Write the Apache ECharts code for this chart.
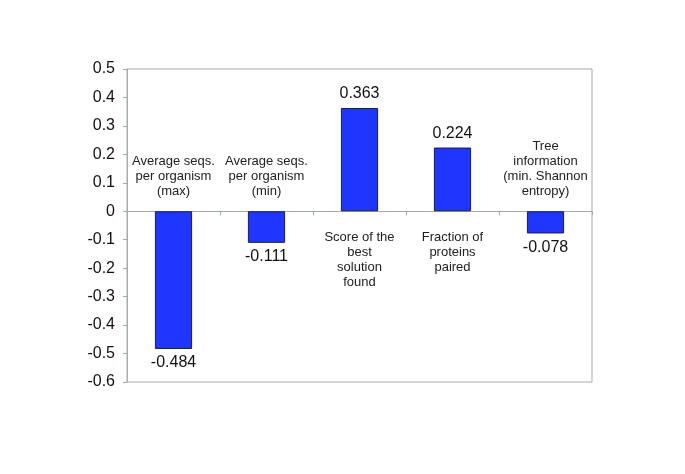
<!DOCTYPE html>
<html><head><meta charset="utf-8">
<script src="https://cdn.jsdelivr.net/npm/echarts@6/dist/echarts.min.js"></script>
<style>html,body{margin:0;padding:0;background:#fff}#c{width:685px;height:474px}</style>
</head><body><div id="c"></div>
<script>
var categories = ['Average seqs. per organism (max)', 'Average seqs. per organism (min)', 'Score of the best solution found', 'Fraction of proteins paired', 'Tree information (min. Shannon entropy)'];
var categoryLabels = ['Average seqs.\nper organism\n(max)', 'Average seqs.\nper organism\n(min)', 'Score of the\nbest\nsolution\nfound', 'Fraction of\nproteins\npaired', 'Tree\ninformation\n(min. Shannon\nentropy)'];
var values = [-0.484, -0.111, 0.363, 0.224, -0.078];
var yMin = -0.6, yMax = 0.5, yStep = 0.1;

var chart = echarts.init(document.getElementById('c'));
var font = '"Liberation Sans", Arial, sans-serif';
chart.setOption({
  animation: false,
  grid: {left: 127, right: 93, top: 69, bottom: 92, show: true, borderColor: '#a3abab', borderWidth: 1, backgroundColor: 'transparent'},
  xAxis: {
    type: 'category', data: categories,
    axisLine: {onZero: true, lineStyle: {color: '#a3abab', width: 1}},
    axisTick: {show: true, interval: 0, length: 4, lineStyle: {color: '#a3abab'}},
    axisLabel: {show: false, interval: 0}
  },
  yAxis: {
    type: 'value', min: yMin, max: yMax, interval: yStep,
    splitLine: {show: false},
    axisLine: {show: true, lineStyle: {color: '#a3abab'}},
    axisTick: {show: true, length: 4, lineStyle: {color: '#a3abab'}},
    axisLabel: {color: '#111', fontSize: 16, fontFamily: font, margin: 12,
      formatter: function (v) { return (Math.round(v * 10) / 10).toString(); }}
  },
  series: [
    {
      type: 'bar', barWidth: '40%', barGap: '-100%',
      data: values.map(function (v) {
        return {value: v, label: {position: v < 0 ? 'bottom' : 'top'}};
      }),
      itemStyle: {color: '#1f36ff', borderColor: '#1c1c48', borderWidth: 1},
      label: {show: true, color: '#111', fontSize: 16, fontFamily: font, distance: 6,
        formatter: function (p) { return p.value.toFixed(3); }}
    },
    {
      type: 'bar', barWidth: '40%', barGap: '-100%', silent: true,
      itemStyle: {color: 'transparent'},
      data: values.map(function (v, i) {
        return {
          value: 0,
          label: {
            show: true,
            position: v < 0 ? 'top' : 'bottom',
            distance: v < 0 ? 12 : 19,
            formatter: categoryLabels[i]
          }
        };
      }),
      label: {color: '#222', fontSize: 13, lineHeight: 15, fontFamily: font, align: 'center'}
    }
  ]
});
</script></body></html>
